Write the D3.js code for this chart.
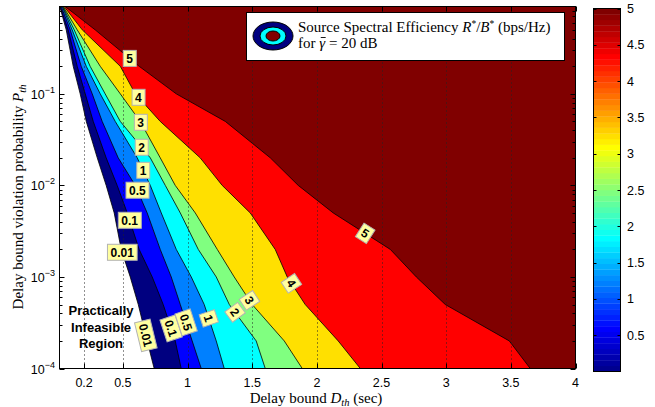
<!DOCTYPE html>
<html><head><meta charset="utf-8">
<script src="https://cdn.jsdelivr.net/npm/d3@7"></script>
<style>body{margin:0;background:#fff;} svg{display:block;}</style>
</head><body>
<script>
// ---------------- data ----------------
const levels = [0.01, 0.1, 0.5, 1, 2, 3, 4, 5];
const levelLabels = ["0.01", "0.1", "0.5", "1", "2", "3", "4", "5"];
const levelColors = ["#000080", "#0000ff", "#0080ff", "#00ffff", "#80ff80", "#ffe000", "#ff0000", "#800000"];
// P_th values at which each contour's D_th position is read
const pSamples = [0.9, 0.5, 0.2, 0.1, 0.05, 0.02, 0.01, 5e-3, 2e-3, 1e-3, 5e-4, 2e-4, 1e-4];
const contour_001 = [0.012, 0.062, 0.116, 0.170, 0.217, 0.302, 0.371, 0.433, 0.487, 0.557, 0.619, 0.688, 0.742];
const contour_01  = [0.015, 0.077, 0.147, 0.209, 0.271, 0.371, 0.456, 0.534, 0.626, 0.727, 0.812, 0.905, 0.951];
const contour_05  = [0.023, 0.093, 0.178, 0.263, 0.340, 0.464, 0.596, 0.688, 0.789, 0.874, 0.944, 1.036, 1.106];
const contour_1   = [0.031, 0.108, 0.217, 0.325, 0.441, 0.611, 0.712, 0.797, 0.913, 1.029, 1.129, 1.222, 1.284];
const contour_2   = [0.035, 0.124, 0.247, 0.363, 0.480, 0.712, 0.828, 0.944, 1.083, 1.222, 1.323, 1.531, 1.601];
const contour_3   = [0.039, 0.147, 0.325, 0.480, 0.634, 0.789, 0.905, 1.060, 1.230, 1.361, 1.500, 1.748, 1.887];
const contour_4   = [0.046, 0.186, 0.480, 0.596, 0.789, 1.098, 1.268, 1.485, 1.678, 1.771, 1.910, 2.165, 2.336];
const contour_5   = [0.054, 0.286, 0.626, 0.913, 1.292, 1.640, 1.856, 2.127, 2.568, 2.769, 2.993, 3.488, 3.650];
const contours = [contour_001, contour_01, contour_05, contour_1, contour_2, contour_3, contour_4, contour_5];
// P_th where the labels sit on each contour
const upperLabelP = [0.00186, 0.00416, 0.00886, 0.01462, 0.0261, 0.0489, 0.0917, 0.244];
const lowerLabelP = [2.31e-4, 2.75e-4, 3.2e-4, 3.54e-4, 4.12e-4, 5.57e-4, 8.54e-4, 3.0e-3];
const xDomain = [0.01, 4];
const yDomain = [1e-4, 0.9];
const xTicks = [0.2, 0.5, 1, 1.5, 2, 2.5, 3, 3.5, 4];
const xTickLabels = ["0.2", "0.5", "1", "1.5", "2", "2.5", "3", "3.5", "4"];
const yTicks = [1e-4, 1e-3, 1e-2, 1e-1];
const yTickExp = ["\u22124", "\u22123", "\u22122", "\u22121"];
const cbDomain = [0, 5];
const cbTicks = [0.5, 1, 1.5, 2, 2.5, 3, 3.5, 4, 4.5, 5];
const cbTickLabels = ["0.5", "1", "1.5", "2", "2.5", "3", "3.5", "4", "4.5", "5"];

// ---------------- layout ----------------
const W = 655, H = 407;
const L = 59.5, R = 575.5, T = 6.5, B = 368.5;
const svg = d3.select("body").append("svg").attr("width", W).attr("height", H);
const x = d3.scaleLinear().domain(xDomain).range([L, R]);
const y = d3.scaleLog().domain(yDomain).range([B, T]);

svg.append("defs").append("clipPath").attr("id", "clip")
  .append("rect").attr("x", L).attr("y", T).attr("width", R - L).attr("height", B - T);

const plot = svg.append("g").attr("clip-path", "url(#clip)");
plot.append("rect").attr("x", L).attr("y", T).attr("width", R - L).attr("height", B - T).attr("fill", "#fff");

const line = d3.line().x(d => x(d[0])).y(d => y(d[1]));
const contourPts = contours.map(c => c.map((d, i) => [d, pSamples[i]]));

// filled regions (value >= level lies to the right of each contour)
contourPts.forEach((pts, i) => {
  const poly = pts.concat([[xDomain[1] + 0.1, yDomain[0] / 2], [xDomain[1] + 0.1, yDomain[1] * 2], [pts[0][0], yDomain[1] * 2]]);
  plot.append("path").attr("d", line(poly) + "Z").attr("fill", levelColors[i]).attr("stroke", "none");
});
// contour lines
contourPts.forEach(pts => {
  plot.append("path").attr("d", line(pts)).attr("fill", "none").attr("stroke", "#000").attr("stroke-width", 0.8);
});

// grid (vertical dotted)
plot.selectAll(".grid").data(xTicks.filter(t => t < xDomain[1])).enter().append("line")
  .attr("x1", d => Math.round(x(d)) + 0.5).attr("x2", d => Math.round(x(d)) + 0.5)
  .attr("y1", T).attr("y2", B).attr("stroke", "#222").attr("stroke-width", 1).attr("stroke-dasharray", "1,3");

// labels on contours
function screenPts(i) { return contourPts[i].map(d => [x(d[0]), y(d[1])]); }
function posOn(i, p) {
  const pts = screenPts(i), ys = y(p);
  for (let k = 0; k < pts.length - 1; k++) {
    const a = pts[k], b = pts[k + 1];
    if (ys >= a[1] && ys <= b[1]) {
      const t = (ys - a[1]) / (b[1] - a[1]);
      let ang = Math.atan2(b[1] - a[1], b[0] - a[0]) * 180 / Math.PI;
      if (ang > 90) ang -= 180;
      return { x: a[0] + t * (b[0] - a[0]), y: ys, ang };
    }
  }
  return { x: pts[0][0], y: ys, ang: 0 };
}
function addLabel(i, p, rotate) {
  const pos = posOn(i, p);
  const g = svg.append("g").attr("transform", `translate(${pos.x},${pos.y}) rotate(${rotate ? pos.ang : 0})`);
  const rect = g.append("rect");
  const txt = g.append("text").attr("text-anchor", "middle").attr("dy", "0.36em")
    .attr("font-family", "Liberation Sans, Arial, sans-serif").attr("font-weight", "bold").attr("font-size", 12)
    .text(levelLabels[i]);
  const bb = txt.node().getBBox();
  rect.attr("x", bb.x - 3).attr("y", -8).attr("width", bb.width + 6).attr("height", 16)
    .attr("fill", "#ffffa0").attr("stroke", "#b3b3b3").attr("stroke-width", 1);
}
levels.forEach((lv, i) => addLabel(i, upperLabelP[i], false));
levels.forEach((lv, i) => addLabel(i, lowerLabelP[i], true));

// infeasible region text
const inf = svg.append("text").attr("font-family", "Liberation Sans, Arial, sans-serif").attr("font-weight", "bold")
  .attr("font-size", 13).attr("text-anchor", "middle");
["Practically", "Infeasible", "Region"].forEach((s, k) => inf.append("tspan").attr("x", 101).attr("y", 315 + k * 16.5).text(s));

// axes box
svg.append("rect").attr("x", L).attr("y", T).attr("width", R - L).attr("height", B - T)
  .attr("fill", "none").attr("stroke", "#000").attr("stroke-width", 1);

// x ticks
const ax = svg.append("g");
xTicks.forEach((t, k) => {
  const px = Math.round(x(t)) + 0.5;
  ax.append("line").attr("x1", px).attr("x2", px).attr("y1", B).attr("y2", B - 5).attr("stroke", "#000");
  ax.append("line").attr("x1", px).attr("x2", px).attr("y1", T).attr("y2", T + 5).attr("stroke", "#000");
  ax.append("text").attr("x", x(t)).attr("y", 387).attr("text-anchor", "middle")
    .attr("font-family", "Liberation Sans, Arial, sans-serif").attr("font-size", 12.5).text(xTickLabels[k]);
});
// y ticks (major + minor)
const minor = [];
for (let e = -4; e <= 0; e++) for (let m = 2; m <= 9; m++) { const v = m * Math.pow(10, e); if (v > yDomain[0] && v < yDomain[1]) minor.push(v); }
minor.forEach(v => {
  const py = Math.round(y(v)) + 0.5;
  ax.append("line").attr("x1", L).attr("x2", L + 3).attr("y1", py).attr("y2", py).attr("stroke", "#000");
  ax.append("line").attr("x1", R).attr("x2", R - 3).attr("y1", py).attr("y2", py).attr("stroke", "#000");
});
yTicks.forEach((t, k) => {
  const py = Math.round(y(t)) + 0.5;
  ax.append("line").attr("x1", L).attr("x2", L + 5).attr("y1", py).attr("y2", py).attr("stroke", "#000");
  ax.append("line").attr("x1", R).attr("x2", R - 5).attr("y1", py).attr("y2", py).attr("stroke", "#000");
  const tx = ax.append("text").attr("x", 55).attr("y", y(t) + 5).attr("text-anchor", "end")
    .attr("font-family", "Liberation Sans, Arial, sans-serif").attr("font-size", 12.5);
  tx.append("tspan").text("10");
  tx.append("tspan").attr("dy", -6).attr("font-size", 9).text(yTickExp[k]);
});

// axis labels
const serif = "Liberation Serif, Times New Roman, serif";
const xl = svg.append("text").attr("x", 316).attr("y", 403).attr("text-anchor", "middle")
  .attr("font-family", serif).attr("font-size", 15);
xl.append("tspan").text("Delay bound ");
xl.append("tspan").attr("font-style", "italic").text("D");
xl.append("tspan").attr("font-style", "italic").attr("font-size", 10.5).attr("dy", 3).text("th");
xl.append("tspan").attr("dy", -3).text(" (sec)");

const yl = svg.append("text").attr("transform", "translate(23,197) rotate(-90)").attr("text-anchor", "middle")
  .attr("font-family", serif).attr("font-size", 15);
yl.append("tspan").text("Delay bound violation probability ");
yl.append("tspan").attr("font-style", "italic").text("P");
yl.append("tspan").attr("font-style", "italic").attr("font-size", 10.5).attr("dy", 3).text("th");

// legend
const lg = svg.append("g");
lg.append("rect").attr("x", 246.5).attr("y", 12.5).attr("width", 318).attr("height", 48)
  .attr("fill", "#fff").attr("stroke", "#000").attr("stroke-width", 1);
lg.append("ellipse").attr("cx", 273).attr("cy", 36).attr("rx", 20).attr("ry", 14).attr("fill", levelColors[0]).attr("stroke", "#000");
lg.append("ellipse").attr("cx", 273).attr("cy", 36).attr("rx", 13).attr("ry", 9).attr("fill", levelColors[3]).attr("stroke", "#000");
lg.append("ellipse").attr("cx", 273).attr("cy", 36).attr("rx", 7).attr("ry", 5).attr("fill", levelColors[7]).attr("stroke", "#000");
const l1 = lg.append("text").attr("x", 298).attr("y", 32).attr("font-family", serif).attr("font-size", 15);
l1.append("tspan").text("Source Spectral Efficiency ");
l1.append("tspan").attr("font-style", "italic").text("R");
l1.append("tspan").attr("font-size", 9.5).attr("dy", -5).text("*");
l1.append("tspan").attr("dy", 5).text("/");
l1.append("tspan").attr("font-style", "italic").text("B");
l1.append("tspan").attr("font-size", 9.5).attr("dy", -5).text("*");
l1.append("tspan").attr("dy", 5).text(" (bps/Hz)");
const l2 = lg.append("text").attr("x", 298).attr("y", 48).attr("font-family", serif).attr("font-size", 15);
l2.append("tspan").text("for ");
l2.append("tspan").attr("font-style", "italic").text("\u03B3");
l2.append("tspan").text(" = 20 dB");
// macron over gamma
{
  const n = l2.node();
  const s = n.getStartPositionOfChar(4), e = n.getEndPositionOfChar(4);
  lg.append("line").attr("x1", s.x + 1.5).attr("x2", e.x + 0.5).attr("y1", 37.5).attr("y2", 37.5)
    .attr("stroke", "#000").attr("stroke-width", 0.9);
}

// colorbar (jet, 64 colours)
function jet(i) { // i = 1..64
  const r = i <= 24 ? 0 : i <= 40 ? (i - 24) / 16 : i <= 56 ? 1 : 1 - (i - 56) / 16;
  const g = i <= 8 ? 0 : i <= 24 ? (i - 8) / 16 : i <= 40 ? 1 : i <= 56 ? 1 - (i - 40) / 16 : 0;
  const b = i <= 8 ? 0.5 + i / 16 : i <= 24 ? 1 : i <= 40 ? 1 - (i - 24) / 16 : 0;
  return d3.rgb(r * 255, g * 255, b * 255).toString();
}
const CL = 593.5, CR = 620.5;
const cb = d3.scaleLinear().domain(cbDomain).range([371.5, 8.5]);
const cbg = svg.append("g");
const nC = 64;
d3.range(nC).forEach(i => {
  const v0 = cbDomain[0] + (cbDomain[1] - cbDomain[0]) * i / nC, v1 = cbDomain[0] + (cbDomain[1] - cbDomain[0]) * (i + 1) / nC;
  cbg.append("rect").attr("x", CL).attr("y", cb(v1)).attr("width", CR - CL).attr("height", cb(v0) - cb(v1) + 0.3)
    .attr("fill", jet(i + 1));
});
cbg.append("rect").attr("x", CL).attr("y", cb(cbDomain[1])).attr("width", CR - CL).attr("height", cb(cbDomain[0]) - cb(cbDomain[1]))
  .attr("fill", "none").attr("stroke", "#000");
cbTicks.forEach((t, k) => {
  const py = Math.round(cb(t)) + 0.5;
  cbg.append("line").attr("x1", CL).attr("x2", CL + 3).attr("y1", py).attr("y2", py).attr("stroke", "#000");
  cbg.append("line").attr("x1", CR).attr("x2", CR - 3).attr("y1", py).attr("y2", py).attr("stroke", "#000");
  cbg.append("text").attr("x", 627).attr("y", cb(t) + 4.5).attr("font-family", "Liberation Sans, Arial, sans-serif")
    .attr("font-size", 12.5).text(cbTickLabels[k]);
});
</script>
</body></html>
